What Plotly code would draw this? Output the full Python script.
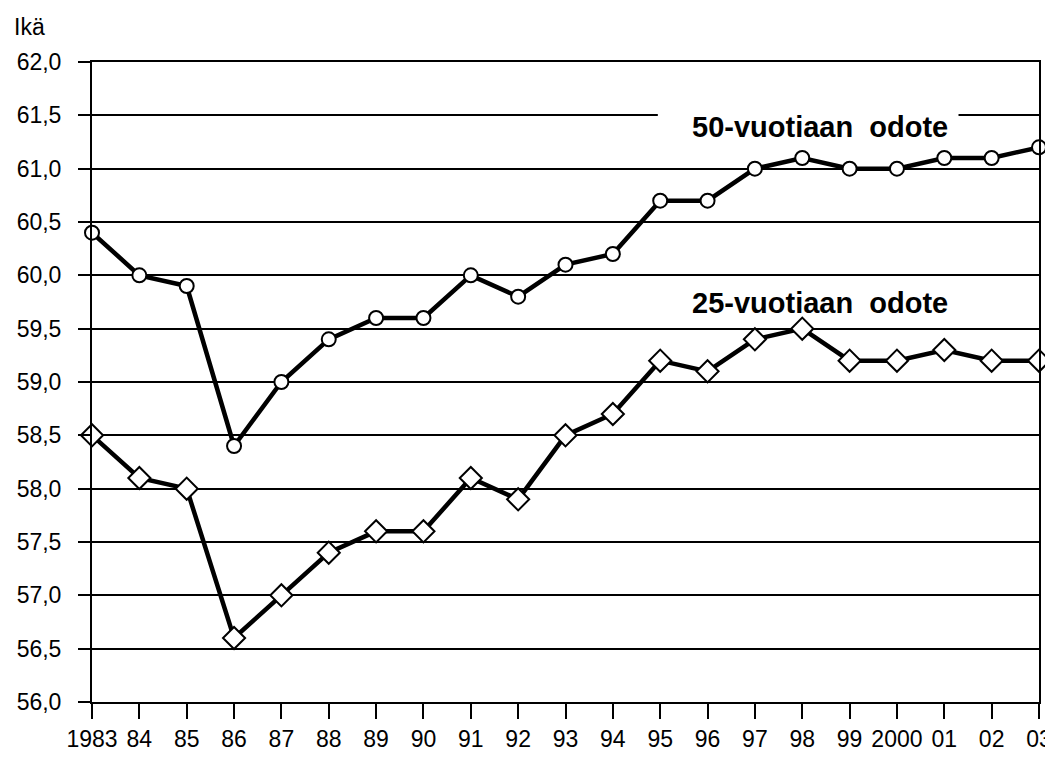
import plotly.graph_objects as go

years = list(range(1983, 2004))
year_labels = ["1983", "84", "85", "86", "87", "88", "89", "90", "91", "92", "93",
               "94", "95", "96", "97", "98", "99", "2000", "01", "02", "03"]
odote_50 = [60.4, 60.0, 59.9, 58.4, 59.0, 59.4, 59.6, 59.6, 60.0, 59.8, 60.1,
            60.2, 60.7, 60.7, 61.0, 61.1, 61.0, 61.0, 61.1, 61.1, 61.2]
odote_25 = [58.5, 58.1, 58.0, 56.6, 57.0, 57.4, 57.6, 57.6, 58.1, 57.9, 58.5,
            58.7, 59.2, 59.1, 59.4, 59.5, 59.2, 59.2, 59.3, 59.2, 59.2]
y_ticks = [56.0 + 0.5 * i for i in range(13)]
y_labels = [f"{v:.1f}".replace(".", ",") for v in y_ticks]

fig = go.Figure()

fig.add_trace(go.Scatter(
    x=years, y=odote_50, mode="lines+markers",
    line=dict(color="black", width=4.5),
    marker=dict(symbol="circle", size=14, color="white",
                line=dict(color="black", width=2)),
    cliponaxis=False, showlegend=False
))
fig.add_trace(go.Scatter(
    x=years, y=odote_25, mode="lines+markers",
    line=dict(color="black", width=4.5),
    marker=dict(symbol="diamond", size=17, color="white",
                line=dict(color="black", width=2)),
    cliponaxis=False, showlegend=False
))

# aukko 61,5-viivassa otsikon kohdalla
fig.add_shape(type="rect", x0=1994.95, x1=2001.3, y0=61.46, y1=61.54,
              fillcolor="white", line=dict(width=0), layer="above")

# Sarjojen nimet
fig.add_annotation(x=1998.37, y=61.39, text="<b>50-vuotiaan  odote</b>", showarrow=False,
                   font=dict(size=29, color="black"))
fig.add_annotation(x=1998.37, y=59.74, text="<b>25-vuotiaan  odote</b>", showarrow=False,
                   font=dict(size=29, color="black"))
fig.add_annotation(x=0, y=1.0, xref="paper", yref="paper", xanchor="left", yanchor="middle",
                   text="Ikä", showarrow=False, font=dict(size=23, color="black"),
                   xshift=-80, yshift=35)

fig.update_layout(
    width=1045, height=749,
    margin=dict(l=84, r=14, t=54, b=55),
    plot_bgcolor="white", paper_bgcolor="white",
    font=dict(family="Liberation Sans, Arial, sans-serif", size=23, color="black"),
    xaxis=dict(
        range=[1983, 2003], tickvals=years, ticktext=year_labels, automargin=False,
        showgrid=False, zeroline=False, showline=True, linecolor="black", linewidth=2,
        mirror=True, ticks="outside", ticklen=15, tickwidth=2, tickcolor="black"
    ),
    yaxis=dict(
        range=[56, 62], tickvals=y_ticks, ticktext=y_labels, automargin=False,
        showgrid=True, gridcolor="black", gridwidth=1.5, zeroline=False,
        showline=True, linecolor="black", linewidth=2, mirror=True,
        ticks="outside", ticklen=12, tickwidth=2, tickcolor="black",
        ticklabelstandoff=12
    )
)

fig.write_html("out.html")
